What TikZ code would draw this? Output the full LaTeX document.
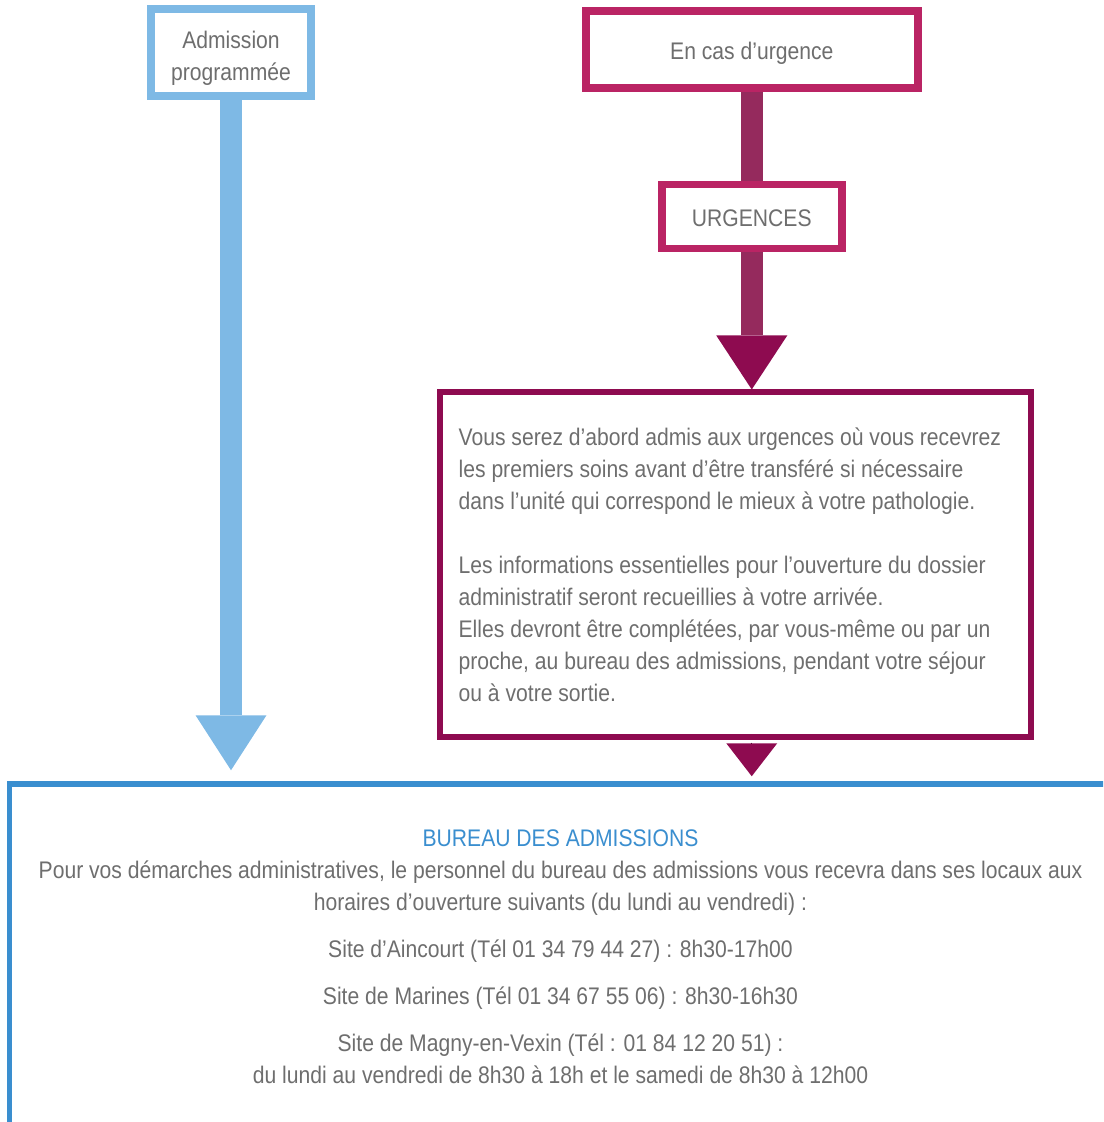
\documentclass[tikz,border=0pt]{standalone}
\usepackage{fontspec}
\setmainfont[FakeStretch=0.88]{Liberation Sans}
\usetikzlibrary{positioning,arrows.meta}

\definecolor{progblue}{HTML}{7EB9E5}
\definecolor{urgpink}{HTML}{BA2464}
\definecolor{urgshaft}{HTML}{952A5D}
\definecolor{urgdark}{HTML}{8E0B50}
\definecolor{bureaublue}{HTML}{3A8ECF}
\definecolor{textgray}{HTML}{6E6E6E}

\newcommand{\TextSize}{\fontsize{12pt}{16pt}\selectfont}

\begin{document}
\begin{tikzpicture}[
  x=0.5pt, y=-0.5pt,
  txt/.style={text=textgray, font=\TextSize, inner sep=0pt},
  box/.style={draw, fill=white, txt, align=center},
  progbox/.style={box, draw=progblue, line width=4pt, minimum width=80pt, minimum height=43.5pt},
  urgbox/.style={box, draw=urgpink, line width=4pt, minimum width=166pt, minimum height=38.5pt,
    text height=10.5pt, text depth=0pt},
  smallbox/.style={box, draw=urgpink, line width=3.75pt, minimum width=90pt, minimum height=32pt,
    text height=10.25pt, text depth=0pt},
  infobox/.style={draw=urgdark, line width=3pt, minimum width=295.5pt, minimum height=172pt},
  bureaubox/.style={draw=bureaublue, line width=2.75pt, minimum width=557.75pt, minimum height=175.5pt},
  shaft/.style={line width=11pt},
  progarrow/.style={shaft, progblue, -{Triangle[width=35.5pt,length=27.5pt,line width=0pt]}},
  urgline/.style={shaft, urgshaft},
  urgarrow/.style={shaft, urgshaft, -{Triangle[width=35.5pt,length=27pt,line width=0pt,color=urgdark]}},
  smalltip/.style={-{Triangle[width=25.5pt,length=16.5pt,line width=0pt,color=urgdark]}}
  ]
  \useasboundingbox (0,0) rectangle (1103,1122);
  \clip (0,0) rectangle (1103,1122);

  \node[bureaubox] (bureau) at (567.25,959.5) {};
  \node[progbox] (prog) at (231,53) {\rule{0pt}{13.5pt}Admission\\programmée};
  \node[urgbox] (urg) at (751.75,49.5) {En cas d’urgence};
  \node[smallbox, below=44.5pt of urg] (urgences) {URGENCES};
  \node[infobox, below=68.5pt of urgences, xshift=-8pt] (info) {};
  \node[txt, align=left, anchor=west] (infotext) at ([xshift=10.5pt]info.west) {%
    Vous serez d’abord admis aux urgences où vous recevrez\\
    les premiers soins avant d’être transféré si nécessaire\\
    dans l’unité qui correspond le mieux à votre pathologie.\\[16pt]
    Les informations essentielles pour l’ouverture du dossier\\
    administratif seront recueillies à votre arrivée.\\
    Elles devront être complétées, par vous-même ou par un\\
    proche, au bureau des admissions, pendant votre séjour\\
    ou à votre sortie.};
  \node[txt, align=center] (bureautext) at (560.5,957) {%
    \textcolor{bureaublue}{BUREAU DES ADMISSIONS}\\
    Pour vos démarches administratives, le personnel du bureau des admissions vous recevra dans ses locaux aux\\
    horaires d’ouverture suivants (du lundi au vendredi) :\\[7.5pt]
    Site d’Aincourt (Tél 01 34 79 44 27) : 8h30-17h00\\[7.5pt]
    Site de Marines (Tél 01 34 67 55 06) : 8h30-16h30\\[7.5pt]
    Site de Magny-en-Vexin (Tél : 01 84 12 20 51) :\\
    du lundi au vendredi de 8h30 à 18h et le samedi de 8h30 à 12h00};

  \coordinate (progend) at ([yshift=5.5pt]prog.south |- bureau.north);
  \coordinate (smallstart) at (info.south -| urgences);
  \coordinate (smallend) at ([yshift=2.5pt]urgences |- bureau.north);

  \draw[progarrow] (prog) -- (progend);
  \draw[urgline] (urg) -- (urgences);
  \draw[urgarrow] (urgences) -- (urgences |- info.north);
  \draw[smalltip] ([yshift=-1.5pt]smallstart) -- (smallend);
\end{tikzpicture}
\end{document}
